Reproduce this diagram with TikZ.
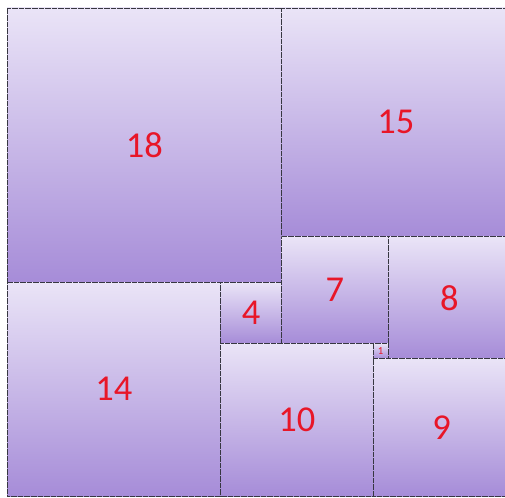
\documentclass[tikz,border=0pt]{standalone}
\usepackage{fontspec}
\setmainfont{Carlito}
\definecolor{sqtop}{RGB}{234,228,247}
\definecolor{sqbot}{RGB}{166,140,216}
\definecolor{lbl}{RGB}{232,22,40}
\definecolor{edge}{RGB}{55,55,65}
\begin{document}
\begin{tikzpicture}[x=1cm,y=-1cm,
  sq/.style={draw=edge, line width=1.2pt, dash pattern=on 1.2pt off 1pt,
    top color=sqtop, bottom color=sqbot, anchor=north west,
    inner sep=0pt, outer sep=0pt, text=lbl,
    font=\fontsize{68}{68}\selectfont},
  tiny/.style={sq, font=\fontsize{20}{20}\selectfont}]
\useasboundingbox (-0.46,-0.52) rectangle (32.65,32.07);
\node[sq, minimum size=18cm] (s18) at (0,0) {18};
\node[sq, minimum size=15cm] (s15) at (18,0) {15};
\node[sq, minimum size=14cm] (s14) at (0,18) {14};
\node[sq, minimum size=4cm] (s4) at (14,18) {4};
\node[sq, minimum size=7cm] (s7) at (18,15) {7};
\node[sq, minimum size=8cm] (s8) at (25,15) {8};
\node[sq, minimum size=10cm] (s10) at (14,22) {10};
\node[tiny, minimum size=1cm] (s1) at (24,22) {1};
\node[sq, minimum size=9cm] (s9) at (24,23) {9};
\end{tikzpicture}
\end{document}
